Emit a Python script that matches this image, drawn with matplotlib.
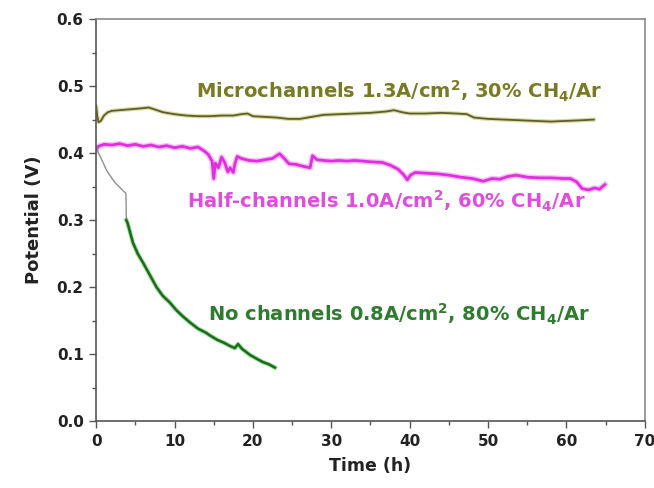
import matplotlib
matplotlib.use("Agg")
import matplotlib.pyplot as plt
from matplotlib.ticker import MultipleLocator

plt.rcParams["font.family"] = ["DejaVu Sans"]
plt.rcParams["font.weight"] = "bold"
plt.rcParams["mathtext.fontset"] = "dejavusans"
plt.rcParams["mathtext.default"] = "bf"

# Microchannels, 1.3 A/cm2, 30% CH4/Ar
micro_t = [0.0, 0.15, 0.3, 0.6, 1.0, 1.5, 2.0, 3.0, 4.0, 5.0, 6.0, 6.7, 7.5, 8.5,
           10, 11.5, 13, 14.5, 16, 17.5, 18.5, 19.3, 20.0, 21.5, 23, 24.5, 26,
           27.5, 29, 31, 33, 35, 37, 38, 39, 40, 42, 44, 46, 47.3, 48.2, 50, 52,
           54, 56, 58, 60, 62, 63.5]
micro_v = [0.470, 0.455, 0.446, 0.448, 0.456, 0.461, 0.463, 0.464, 0.465, 0.466,
           0.467, 0.468, 0.465, 0.461, 0.458, 0.456, 0.455, 0.455, 0.456, 0.456,
           0.458, 0.459, 0.455, 0.454, 0.453, 0.451, 0.451, 0.454, 0.457, 0.458,
           0.459, 0.460, 0.462, 0.464, 0.461, 0.459, 0.459, 0.460, 0.459, 0.458,
           0.453, 0.451, 0.450, 0.449, 0.448, 0.447, 0.448, 0.449, 0.450]

# Half-channels, 1.0 A/cm2, 60% CH4/Ar
half_t = [0.0, 0.3, 1, 2, 3, 4, 5, 6, 7, 8, 9, 10, 11, 12, 13, 13.8, 14.3, 14.8,
          15.0, 15.2, 15.6, 16.0, 16.4, 16.8, 17.1, 17.5, 17.7, 18.0, 18.5, 19.5,
          20.5, 21.5, 22.5, 23.4, 24.0, 24.6, 25.5, 26.5, 27.3, 27.6, 28.2, 29,
          30, 31, 32, 33, 34, 35, 36.5, 37.5, 38.5, 39.2, 39.7, 40.1, 40.7, 42,
          43.5, 45, 46.5, 48, 49.4, 50.5, 51.5, 52.5, 53.6, 55, 56.5, 58, 59.5,
          60.5, 61.3, 62.0, 62.8, 63.6, 64.2, 64.9]
half_v = [0.405, 0.410, 0.413, 0.412, 0.414, 0.411, 0.413, 0.410, 0.412, 0.409,
          0.411, 0.408, 0.410, 0.407, 0.409, 0.403, 0.398, 0.388, 0.362, 0.385,
          0.378, 0.394, 0.386, 0.372, 0.378, 0.371, 0.384, 0.395, 0.392, 0.389,
          0.388, 0.390, 0.392, 0.399, 0.392, 0.384, 0.383, 0.380, 0.378, 0.396,
          0.390, 0.389, 0.388, 0.389, 0.388, 0.389, 0.388, 0.387, 0.386, 0.382,
          0.376, 0.368, 0.360, 0.367, 0.371, 0.370, 0.369, 0.367, 0.364, 0.362,
          0.358, 0.362, 0.361, 0.365, 0.367, 0.364, 0.363, 0.363, 0.362, 0.362,
          0.357, 0.347, 0.345, 0.348, 0.346, 0.353]

# No channels, 0.8 A/cm2, 80% CH4/Ar: start-up trace before the step, then main run
none_start_t = [0.0, 0.3, 0.8, 1.3, 1.8, 2.4, 3.0, 3.5, 3.8, 3.85]
none_start_v = [0.410, 0.400, 0.388, 0.375, 0.366, 0.356, 0.349, 0.343, 0.340, 0.300]
none_t = [3.85, 4.0, 4.7, 5.3, 6.0, 6.9, 7.7, 8.5, 9.4, 10.2, 11, 12, 13, 14, 14.5,
          15.5, 16.3, 17.1, 17.7, 18.1, 18.6, 19.6, 20.5, 21.3, 22.0, 22.8]
none_v = [0.300, 0.296, 0.266, 0.250, 0.236, 0.217, 0.200, 0.187, 0.177, 0.166,
          0.157, 0.147, 0.138, 0.132, 0.128, 0.121, 0.117, 0.112, 0.109, 0.115,
          0.108, 0.099, 0.093, 0.088, 0.085, 0.080]

x_ticks = [0, 10, 20, 30, 40, 50, 60, 70]
y_ticks = [0.0, 0.1, 0.2, 0.3, 0.4, 0.5, 0.6]

fig = plt.figure(figsize=(6.54, 4.88), dpi=100)
ax = fig.add_axes([0.147, 0.137, 0.839, 0.824])

# Microchannels trace
ax.plot(micro_t, micro_v, color="#b8b84a", lw=3.0, alpha=0.5, solid_capstyle="round")
ax.plot(micro_t, micro_v, color="#5e5e2c", lw=1.3)

# Half-channels trace
ax.plot(half_t, half_v, color="#f070f0", lw=4.0, alpha=0.45)
ax.plot(half_t, half_v, color="#e02ee0", lw=2.0)

# No-channels trace
ax.plot(none_start_t, none_start_v, color="#909090", lw=1.0)
ax.plot(none_t, none_v, color="#40c040", lw=3.2, alpha=0.5)
ax.plot(none_t, none_v, color="#1c6a1c", lw=1.8)

ax.text(12.75, 0.4925, "Microchannels 1.3A/cm$^{2}$, 30% CH$_{4}$/Ar",
        color="#7a7a22", fontsize=14, fontweight="bold", ha="left", va="center")
ax.text(11.6, 0.328, "Half-channels 1.0A/cm$^{2}$, 60% CH$_{4}$/Ar",
        color="#e04ce0", fontsize=14, fontweight="bold", ha="left", va="center")
ax.text(14.3, 0.160, "No channels 0.8A/cm$^{2}$, 80% CH$_{4}$/Ar",
        color="#2e7d2e", fontsize=14, fontweight="bold", ha="left", va="center")

ax.set_xlim(0, 70)
ax.set_ylim(0.0, 0.6)
ax.set_xticks(x_ticks)
ax.set_yticks(y_ticks)
ax.set_xticklabels([str(v) for v in x_ticks])
ax.set_yticklabels([f"{v:.1f}" for v in y_ticks])
ax.xaxis.set_minor_locator(MultipleLocator(5))
ax.yaxis.set_minor_locator(MultipleLocator(0.05))
ax.tick_params(which="major", direction="out", length=5, width=1.0, color="#555555",
               labelsize=11, labelcolor="#222222", pad=4)
ax.tick_params(which="minor", direction="out", length=3, width=1.0, color="#555555")
for lab in ax.get_xticklabels() + ax.get_yticklabels():
    lab.set_fontweight("bold")

for side in ("left", "bottom"):
    ax.spines[side].set_color("#555555")
    ax.spines[side].set_linewidth(1.2)
for side in ("top", "right"):
    ax.spines[side].set_color("#8a8a8a")
    ax.spines[side].set_linewidth(1.2)

ax.set_xlabel("Time (h)", fontsize=12.5, fontweight="bold", color="#222222", labelpad=6)
ax.set_ylabel("Potential (V)", fontsize=13, fontweight="bold", color="#222222", labelpad=10)

fig.savefig("out.png", dpi=100)
